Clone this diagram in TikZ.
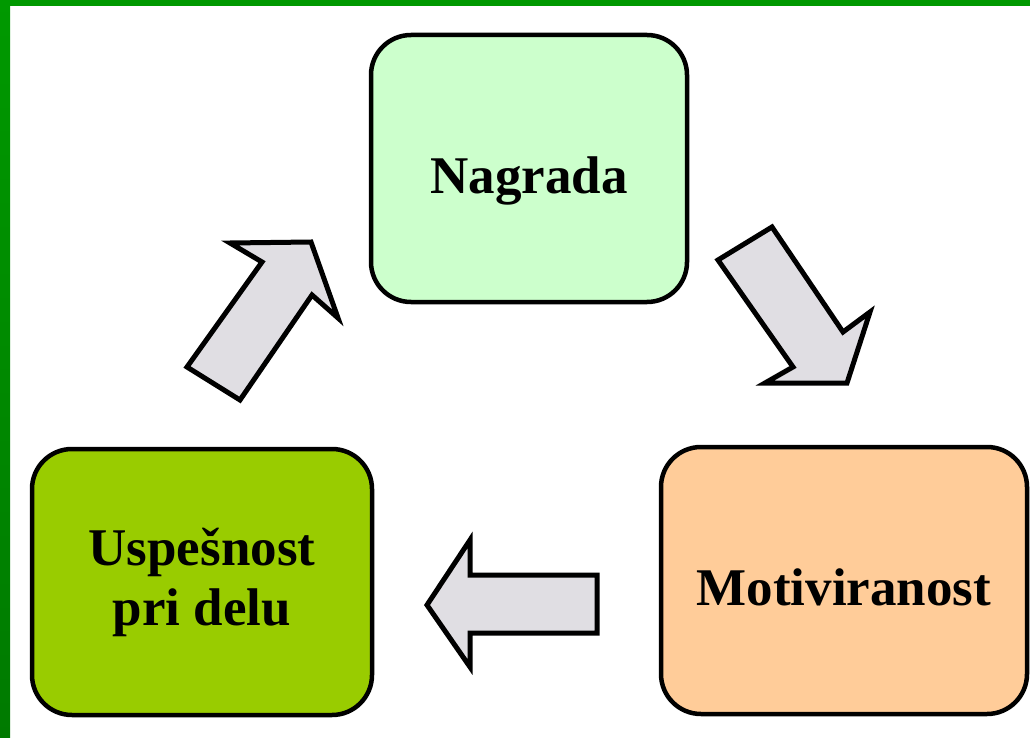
\documentclass[tikz,border=0pt]{standalone}
\usepackage{fontspec}
\setmainfont{Liberation Serif}
\definecolor{frameA}{HTML}{009900}
\definecolor{frameB}{HTML}{007A00}
\definecolor{nagfill}{HTML}{CCFFCC}
\definecolor{motfill}{HTML}{FFCC99}
\definecolor{uspfill}{HTML}{99CC00}
\definecolor{arrfill}{HTML}{E0DEE3}
\tikzset{
  boxstyle/.style={draw=black, line width=4.5pt, rounded corners=40pt, inner sep=0pt},
  arrowshape/.style={draw=black, fill=arrfill, line width=5pt, line join=miter},
  labelstyle/.style={font=\fontsize{53}{60}\selectfont\bfseries, align=center, inner sep=0pt}
}
\begin{document}
\begin{tikzpicture}[x=1pt,y=-1pt]
\useasboundingbox (0,0) rectangle (1030,738);
\fill[white] (0,0) rectangle (1030,738);
\fill[frameA] (0,0) rectangle (1030,6);
\shade[top color=frameA, bottom color=frameB] (0,0) rectangle (10,738);
% boxes
\node[boxstyle, fill=nagfill, minimum width=316pt, minimum height=267pt] (nag) at (529,168.5) {};
\node[boxstyle, fill=motfill, minimum width=366pt, minimum height=267pt] (mot) at (844,580.5) {};
\node[boxstyle, fill=uspfill, minimum width=340pt, minimum height=266pt] (usp) at (202,582) {};
% labels
\node[labelstyle, anchor=base] (nagt) at ([yshift=-25pt]nag.center) {Nagrada};
\node[labelstyle, anchor=base] (mott) at ([yshift=-24.5pt]mot.center) {Motiviranost};
\node[labelstyle] (uspt) at (usp.center) {Uspešnost\\pri delu};
% arrows
\draw[arrowshape] (187,367) coordinate (a1) -- (240,400) -- (312,295) -- (338,318) -- (311,242) -- (230,243) -- (262,262) -- cycle;
\draw[arrowshape] (718,260) coordinate (a2) -- (772,227) -- (843,332) -- (870,312) -- (847,383) -- (765,383) -- (793,367) -- cycle;
\draw[arrowshape] (427,605) coordinate (a3) -- (470,540) -- (470,575) -- (597,575) -- (597,633) -- (470,633) -- (470,667) -- cycle;
\end{tikzpicture}
\end{document}
